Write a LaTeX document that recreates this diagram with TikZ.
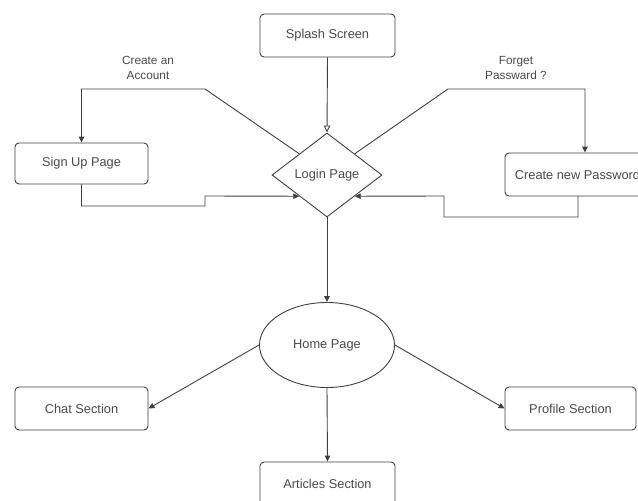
\documentclass[tikz,border=0pt]{standalone}
\usepackage{fontspec}
\setmainfont{Liberation Sans}
\usetikzlibrary{shapes.geometric,arrows.meta}
\definecolor{ln}{HTML}{404040}
\definecolor{tx}{HTML}{4A4A4A}
\begin{document}
\begin{tikzpicture}[x=1pt,y=-1pt,
  every node/.style={font=\fontsize{12.8}{14}\selectfont, text=tx},
  boxnode/.style={draw=ln, line width=0.9pt, rounded corners=4pt, rectangle, inner sep=0pt},
  dianode/.style={draw=ln, line width=0.9pt, diamond, inner sep=0pt, minimum width=110pt, minimum height=84pt},
  ellnode/.style={draw=ln, line width=0.9pt, ellipse, inner sep=0pt, minimum width=135pt, minimum height=85pt},
  conn/.style={draw=ln, line width=0.9pt, -{Triangle[length=6pt,width=5.5pt]}},
  openconn/.style={draw=ln, line width=0.9pt, -{Triangle[open,length=7pt,width=6.5pt]}},
  lbl/.style={align=center, font=\fontsize{11.8}{15.5}\selectfont}
]
\clip (0,0) rectangle (638,501);
\fill[white] (0,0) rectangle (638,501);

\node[boxnode, minimum width=135pt, minimum height=43pt] (splash) at (327.5,35.5) {Splash Screen};
\node[dianode] (login) at (327,175) {Login Page};
\node[boxnode, minimum width=133pt, minimum height=41pt] (signup) at (81.5,163.5) {Sign Up Page};
\node[boxnode, minimum width=145pt, minimum height=43pt] (newpw) at (577.5,174.5) {Create new Password};
\node[ellnode] (home) at (327,345) {Home Page};
\node[boxnode, minimum width=133pt, minimum height=43pt] (chat) at (81.5,408.5) {Chat Section};
\node[boxnode, minimum width=131pt, minimum height=43pt] (profile) at (570.5,408.5) {Profile Section};
\node[boxnode, minimum width=135pt, minimum height=43pt] (articles) at (327.5,483.5) {Articles Section};

\node[lbl] (lblacc) at (148,68) {Create an\\Account};
\node[lbl] (lblpw) at (516,68) {Forget\\Passward ?};

\coordinate (a1) at (205,89);
\coordinate (a2) at (81.5,89);
\coordinate (b1) at (81.5,206);
\coordinate (b2) at (205,206);
\coordinate (b3) at (205,196);
\coordinate (c1) at (448,89);
\coordinate (c2) at (585,89);
\coordinate (d0) at (578,196);
\coordinate (d1) at (578,217);
\coordinate (d2) at (444,217);
\coordinate (d3) at (444,196);

\draw[openconn] (splash.south) -- (login.north);
\draw[conn] (login.north west) -- (a1) -- (a2) -- (signup.north);
\draw[conn] (signup.south) -- (b1) -- (b2) -- (b3) -- (login.south west);
\draw[conn] (login.north east) -- (c1) -- (c2) -- (c2 |- newpw.north);
\draw[conn] (d0) -- (d1) -- (d2) -- (d3) -- (login.south east);
\draw[conn] (login.south) -- (home.north);
\draw[conn] (home.west) -- (chat.east);
\draw[conn] (home.east) -- (profile.west);
\draw[conn] (home.south) -- (articles.north);
\end{tikzpicture}
\end{document}
